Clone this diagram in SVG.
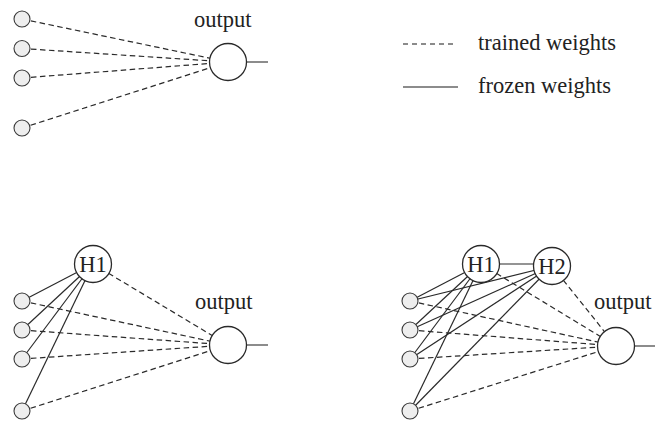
<svg xmlns="http://www.w3.org/2000/svg" width="655" height="424" viewBox="0 0 655 424">
  <style>
    .w { stroke: #2a2a2a; stroke-width: 1.2; fill: none; }
    .t { stroke-dasharray: 5.5 3.5; }
    .stub { stroke: #666; stroke-width: 1.5; fill: none; }
    .in { fill: #eeeeee; stroke: #3a3a3a; stroke-width: 1.1; }
    .unit { fill: #ffffff; stroke: #2a2a2a; stroke-width: 1.3; }
    text { font-family: "Liberation Serif", "Times New Roman", serif; font-size: 22.5px; fill: #222; }
    .c { text-anchor: middle; }
  </style>
  <rect width="655" height="424" fill="#ffffff"/>

  <!-- weights: drawn centre to centre, the filled circles cover the ends -->
  <g id="connectors">
    <!-- panel A: inputs straight to output -->
    <line class="w t" x1="22" y1="19" x2="228" y2="62"/>
    <line class="w t" x1="22" y1="48.5" x2="228" y2="62"/>
    <line class="w t" x1="22" y1="78" x2="228" y2="62"/>
    <line class="w t" x1="22" y1="128" x2="228" y2="62"/>
    <line class="stub" x1="246" y1="62" x2="268" y2="62"/>

    <!-- panel B: one hidden unit -->
    <line class="w" x1="22" y1="301" x2="93" y2="264"/>
    <line class="w" x1="22" y1="330" x2="93" y2="264"/>
    <line class="w" x1="22" y1="359" x2="93" y2="264"/>
    <line class="w" x1="22" y1="411" x2="93" y2="264"/>
    <line class="w t" x1="93" y1="264" x2="228" y2="345"/>
    <line class="w t" x1="22" y1="301" x2="228" y2="345"/>
    <line class="w t" x1="22" y1="330" x2="228" y2="345"/>
    <line class="w t" x1="22" y1="359" x2="228" y2="345"/>
    <line class="w t" x1="22" y1="411" x2="228" y2="345"/>
    <line class="stub" x1="246.5" y1="345" x2="268" y2="345"/>

    <!-- panel C: two hidden units -->
    <line class="w" x1="410" y1="301" x2="481" y2="264"/>
    <line class="w" x1="410" y1="330" x2="481" y2="264"/>
    <line class="w" x1="410" y1="359" x2="481" y2="264"/>
    <line class="w" x1="410" y1="411" x2="481" y2="264"/>
    <line class="w" x1="410" y1="301" x2="552" y2="266"/>
    <line class="w" x1="410" y1="330" x2="552" y2="266"/>
    <line class="w" x1="410" y1="359" x2="552" y2="266"/>
    <line class="w" x1="410" y1="411" x2="552" y2="266"/>
    <line class="w" x1="481" y1="264" x2="552" y2="264"/>
    <line class="w t" x1="481" y1="264" x2="616" y2="346"/>
    <line class="w t" x1="552" y1="266" x2="616" y2="346"/>
    <line class="w t" x1="410" y1="301" x2="616" y2="346"/>
    <line class="w t" x1="410" y1="330" x2="616" y2="346"/>
    <line class="w t" x1="410" y1="359" x2="616" y2="346"/>
    <line class="w t" x1="410" y1="411" x2="616" y2="346"/>
    <line class="stub" x1="634.5" y1="346" x2="655" y2="346"/>
  </g>

  <!-- panel A nodes -->
  <g id="a-in1"><circle class="in" cx="22" cy="19" r="8"/></g>
  <g id="a-in2"><circle class="in" cx="22" cy="48.5" r="8"/></g>
  <g id="a-in3"><circle class="in" cx="22" cy="78" r="8"/></g>
  <g id="a-in4"><circle class="in" cx="22" cy="128" r="8"/></g>
  <g id="a-out">
    <circle class="unit" cx="228" cy="62" r="18.5"/>
    <text x="194" y="27">output</text>
  </g>

  <!-- legend -->
  <g id="legend">
    <line class="stub" x1="403" y1="44" x2="456" y2="44" stroke-dasharray="5 4"/>
    <text x="478" y="50">trained weights</text>
    <line class="stub" x1="403" y1="87" x2="458" y2="87"/>
    <text x="478" y="93">frozen weights</text>
  </g>

  <!-- panel B nodes -->
  <g id="b-in1"><circle class="in" cx="22" cy="301" r="8"/></g>
  <g id="b-in2"><circle class="in" cx="22" cy="330" r="8"/></g>
  <g id="b-in3"><circle class="in" cx="22" cy="359" r="8"/></g>
  <g id="b-in4"><circle class="in" cx="22" cy="411" r="8"/></g>
  <g id="b-h1">
    <circle class="unit" cx="93" cy="264" r="18.5"/>
    <text class="c" x="93" y="272">H1</text>
  </g>
  <g id="b-out">
    <circle class="unit" cx="228" cy="345" r="18.5"/>
    <text x="195" y="309">output</text>
  </g>

  <!-- panel C nodes -->
  <g id="c-in1"><circle class="in" cx="410" cy="301" r="8"/></g>
  <g id="c-in2"><circle class="in" cx="410" cy="330" r="8"/></g>
  <g id="c-in3"><circle class="in" cx="410" cy="359" r="8"/></g>
  <g id="c-in4"><circle class="in" cx="410" cy="411" r="8"/></g>
  <g id="c-h1">
    <circle class="unit" cx="481" cy="264" r="18.5"/>
    <text class="c" x="481" y="272">H1</text>
  </g>
  <g id="c-h2">
    <circle class="unit" cx="552" cy="266" r="18.5"/>
    <text class="c" x="552" y="274">H2</text>
  </g>
  <g id="c-out">
    <circle class="unit" cx="616" cy="346" r="18.5"/>
    <text x="594" y="309">output</text>
  </g>
</svg>
